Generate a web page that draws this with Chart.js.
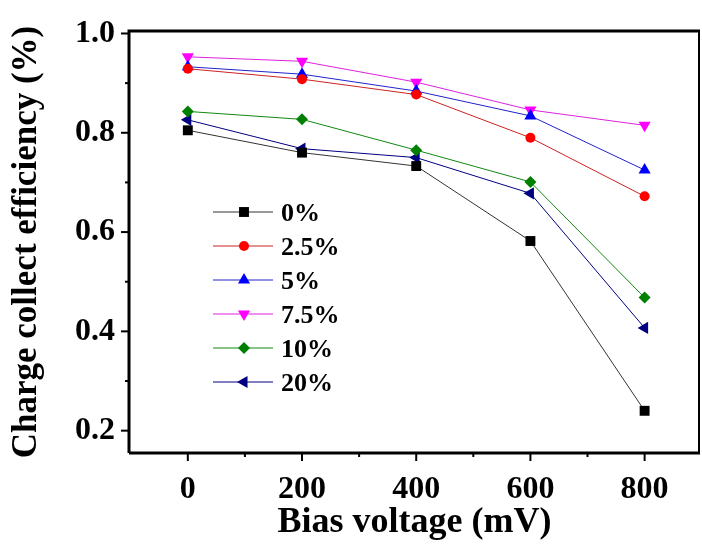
<!DOCTYPE html>
<html lang="en">
<head>
<meta charset="UTF-8">
<title>chart</title>
<style>
  html, body { margin: 0; padding: 0; background: #fff; overflow: hidden; }
  #wrap { width: 702px; height: 545px; }
  canvas { display: block; }
</style>
</head>
<body>
<div id="wrap"><canvas id="cce"></canvas></div>
<script src="https://cdn.jsdelivr.net/npm/chart.js"></script>
<script>
// bias voltage (mV)
var voltages = [0, 200, 400, 600, 800];

var seriesLabels = ['0%', '2.5%', '5%', '7.5%', '10%', '20%'];
var eff0   = [0.805, 0.760, 0.733, 0.582, 0.240];
var eff25  = [0.929, 0.908, 0.877, 0.790, 0.672];
var eff5   = [0.933, 0.918, 0.884, 0.834, 0.725];
var eff75  = [0.953, 0.944, 0.902, 0.846, 0.815];
var eff10  = [0.843, 0.827, 0.765, 0.701, 0.468];
var eff20  = [0.826, 0.768, 0.750, 0.678, 0.407];

var xTickValues = [-100, 0, 100, 200, 300, 400, 500, 600, 700, 800, 900];
var xMajorTicks = [0, 200, 400, 600, 800];
var yMajorTicks = [0.2, 0.4, 0.6, 0.8, 1.0];

var FONT = "'Liberation Serif', 'Times New Roman', serif";

function pts(vals) {
    return vals.map(function (v, i) { return { x: voltages[i], y: v }; });
}

// marker styles per series
var styles = [
    { color: '#000000', line: '#333333', shape: 'rect',     radius: 7,   rot: 0 },
    { color: '#ff0000', line: '#cc2222', shape: 'circle',   radius: 5,   rot: 0 },
    { color: '#0000ff', line: '#2222cc', shape: 'triangle', radius: 7,   rot: 0 },
    { color: '#ff00ff', line: '#dd22dd', shape: 'triangle', radius: 7,   rot: 180 },
    { color: '#008000', line: '#118811', shape: 'rectRot',  radius: 6,   rot: 0 },
    { color: '#000080', line: '#000080', shape: 'triangle', radius: 7,   rot: -90 }
];
var allSeries = [eff0, eff25, eff5, eff75, eff10, eff20];

var datasets = allSeries.map(function (vals, i) {
    var s = styles[i];
    return {
        label: seriesLabels[i],
        data: pts(vals),
        borderColor: s.line,
        borderWidth: 1,
        backgroundColor: s.color,
        pointBackgroundColor: s.color,
        pointBorderColor: s.color,
        pointBorderWidth: 0,
        pointStyle: s.shape,
        pointRotation: s.rot,
        pointRadius: s.radius,
        pointHoverRadius: s.radius,
        tension: 0
    };
});

// frame, minor/major ticks and in-plot legend
var framePlugin = {
    id: 'frame',
    afterDraw: function (chart) {
        var ctx = chart.ctx;
        var a = chart.chartArea;
        var xs = chart.scales.x, ys = chart.scales.y;
        ctx.save();
        ctx.strokeStyle = '#000';
        ctx.lineWidth = 3;
        ctx.beginPath();
        ctx.moveTo(a.left, a.bottom);
        ctx.lineTo(a.left, a.top);
        ctx.lineTo(a.right, a.top);
        ctx.stroke();
        ctx.lineWidth = 2;
        ctx.beginPath();
        ctx.moveTo(a.right - 1, a.top);
        ctx.lineTo(a.right - 1, a.bottom);
        ctx.stroke();
        ctx.lineWidth = 3;
        ctx.beginPath();
        ctx.moveTo(a.left, a.bottom);
        ctx.lineTo(a.right, a.bottom);
        ctx.stroke();

        ctx.lineWidth = 2;
        xTickValues.forEach(function (v) {
            var px = xs.getPixelForValue(v);
            if (px <= a.left + 2 || px >= a.right - 2) return;
            var len = xMajorTicks.indexOf(v) >= 0 ? 8 : 4;
            ctx.beginPath();
            ctx.moveTo(px, a.bottom);
            ctx.lineTo(px, a.bottom + len);
            ctx.stroke();
        });
        for (var k = 2; k <= 10; k++) {
            var py = ys.getPixelForValue(k / 10);
            var major = k % 2 === 0;
            ctx.beginPath();
            ctx.moveTo(a.left, py);
            ctx.lineTo(a.left - (major ? 8 : 4), py);
            ctx.stroke();
        }

        // legend
        var lx0 = 213, lx1 = 273, mx = 244, tx = 281, y0 = 212, dy = 34;
        ctx.font = 'bold 26px ' + FONT;
        ctx.textBaseline = 'middle';
        ctx.textAlign = 'left';
        chart.data.datasets.forEach(function (ds, i) {
            var y = y0 + i * dy;
            ctx.strokeStyle = ds.borderColor;
            ctx.lineWidth = 1;
            ctx.beginPath();
            ctx.moveTo(lx0, y);
            ctx.lineTo(lx1, y);
            ctx.stroke();
            ctx.fillStyle = ds.pointBackgroundColor;
            ctx.strokeStyle = ds.pointBorderColor;
            Chart.helpers.drawPoint(ctx, {
                pointStyle: ds.pointStyle,
                rotation: ds.pointRotation,
                radius: ds.pointRadius,
                borderWidth: 0
            }, mx, y);
            ctx.fillStyle = '#000';
            ctx.fillText(ds.label, tx, y + 2);
        });
        ctx.restore();
    }
};

new Chart(document.getElementById('cce'), {
    type: 'line',
    data: { datasets: datasets },
    plugins: [framePlugin],
    options: {
        responsive: true,
        maintainAspectRatio: false,
        animation: false,
        layout: { autoPadding: false, padding: { left: 0, right: 2, top: 31, bottom: 0 } },
        plugins: {
            legend: { display: false },
            title: { display: false },
            tooltip: { enabled: false }
        },
        scales: {
            x: {
                type: 'linear',
                min: -103,
                max: 897,
                grid: { display: false, drawTicks: false },
                border: { display: false },
                afterBuildTicks: function (scale) {
                    scale.ticks = xTickValues.map(function (v) { return { value: v }; });
                },
                afterFit: function (scale) {
                    scale.height = 92;
                    scale.paddingLeft = 0;
                    scale.paddingRight = 0;
                },
                ticks: {
                    autoSkip: false,
                    maxRotation: 0,
                    padding: 18,
                    color: '#000',
                    font: { family: FONT, size: 32, weight: 'bold' },
                    callback: function (value) {
                        return xMajorTicks.indexOf(value) >= 0 ? String(value) : '';
                    }
                },
                title: {
                    display: true,
                    text: 'Bias voltage (mV)',
                    color: '#000',
                    font: { family: FONT, size: 36, weight: 'bold' },
                    padding: { top: 0, bottom: 1 }
                }
            },
            y: {
                min: 0.155,
                max: 1.005,
                grid: { display: false, drawTicks: false },
                border: { display: false },
                afterFit: function (scale) {
                    scale.width = 129;
                    scale.paddingTop = 0;
                    scale.paddingBottom = 0;
                },
                ticks: {
                    stepSize: 0.1,
                    includeBounds: false,
                    autoSkip: false,
                    padding: 14,
                    color: '#000',
                    font: { family: FONT, size: 32, weight: 'bold' },
                    callback: function (value) {
                        var k = Math.round(value * 10);
                        return yMajorTicks.indexOf(k / 10) >= 0 ? (k / 10).toFixed(1) : '';
                    }
                },
                title: {
                    display: true,
                    text: 'Charge collect efficiency (%)',
                    color: '#000',
                    font: { family: FONT, size: 35, weight: 'bold' },
                    padding: { top: 6, bottom: 0 }
                }
            }
        }
    }
});
</script>
</body>
</html>
